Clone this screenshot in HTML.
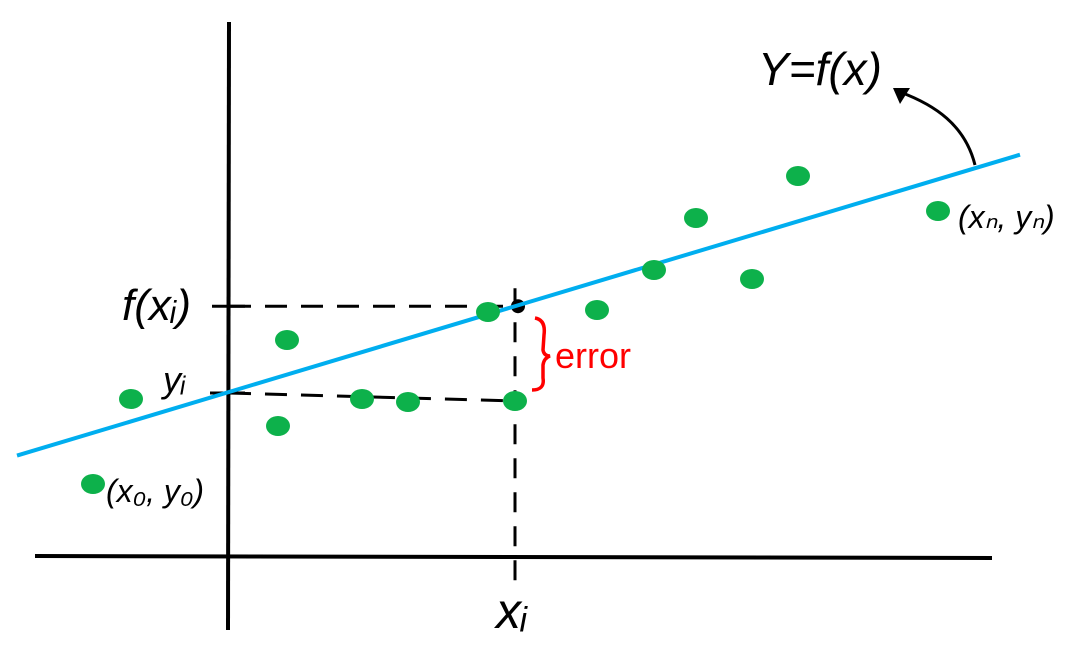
<!DOCTYPE html>
<html><head><meta charset="utf-8"><style>
html,body{margin:0;padding:0;background:#fff;width:1087px;height:665px;overflow:hidden}
svg text{font-family:"Liberation Sans",sans-serif}
</style></head><body>
<svg id="chart" width="1087" height="665" viewBox="0 0 1087 665" xmlns="http://www.w3.org/2000/svg">
<g id="axes">
<line x1="229" y1="22" x2="228" y2="630" stroke="#000" stroke-width="4"/>
<line x1="35" y1="556" x2="992" y2="558" stroke="#000" stroke-width="4"/>
</g>
<g id="guides"></g>
<g id="fitline"></g>
<g id="points"></g>
<path d="M975,165 C965,125 935,105 900,92" fill="none" stroke="#000" stroke-width="3"/>
<polygon points="893,88 910,88 900,104" fill="#000"/>
<text x="758" y="85" font-size="46" font-style="italic">Y=f(x)</text>
<text x="958" y="228" font-size="32" font-style="italic">(xₙ, yₙ)</text>
<text x="106" y="502" font-size="32" font-style="italic">(x₀, y₀)</text>
<text x="122" y="320" font-size="44" font-style="italic">f(xᵢ)</text>
<text x="163" y="392" font-size="36" font-style="italic">yᵢ</text>
<text x="496" y="628" font-size="50" font-style="italic">xᵢ</text>
<path d="M535,318 Q546,320 544,335 L543,350 Q544,356 550,356 Q544,358 543,365 L543,378 Q545,390 532,390" fill="none" stroke="#f00" stroke-width="3.5"/>
<text x="555" y="368" font-size="36" fill="#f00">error</text>
</svg>
<script>
const xs=[-13.6,-9.8,4.9,5.8,13.3,17.9,25.9,28.6,36.8,42.5,46.7,52.3,56.9,70.9];
const ys=[7.2,15.7,13.0,21.6,15.7,15.4,24.4,15.5,24.6,28.6,33.8,27.7,38.0,34.5];
const intercept=[16.4];
const slope=[0.3];
const xi=[28.6];
const NS="http://www.w3.org/2000/svg";
function sx(v){return 229+v*10;}
function sy(v){return 556-v*10;}
function mk(tag,attrs,parent){const e=document.createElementNS(NS,tag);for(const k in attrs)e.setAttribute(k,attrs[k]);document.getElementById(parent).appendChild(e);return e;}
const fl=x=>intercept[0]+slope[0]*x;
let l=mk('line',{x1:sx(-21.2),y1:sy(fl(-21.2)),x2:sx(79.1),y2:sy(fl(79.1)),stroke:'#00aeef','stroke-width':4},'fitline');


xs.forEach((x,i)=>{
  const c=mk('ellipse',{cx:sx(x),cy:sy(ys[i]),rx:12,ry:10,fill:'#0db14b'},'points');
  
  
});
const fx=fl(xi[0]);
const yv=ys[7];
let g1=mk('line',{x1:sx(0),y1:sy(fx),x2:sx(xi[0]),y2:sy(fx),stroke:'#000','stroke-width':3,'stroke-dasharray':'22,14'},'guides');


let g2=mk('line',{x1:sx(0),y1:sy(yv)-8,x2:sx(xi[0]),y2:sy(yv),stroke:'#000','stroke-width':3,'stroke-dasharray':'22,14'},'guides');


let g3=mk('line',{x1:sx(xi[0]),y1:sy(fx)-18,x2:sx(xi[0]),y2:582,stroke:'#000','stroke-width':3,'stroke-dasharray':'20,14'},'guides');


let t1=mk('line',{x1:212,y1:sy(fx),x2:245,y2:sy(fx),stroke:'#000','stroke-width':3},'guides');


let t2=mk('line',{x1:210,y1:sy(yv)-8,x2:245,y2:sy(yv)-8,stroke:'#000','stroke-width':3},'guides');


let d=mk('circle',{cx:sx(xi[0])+3,cy:sy(fx),r:7,fill:'#000'},'guides');


</script>
</body></html>
